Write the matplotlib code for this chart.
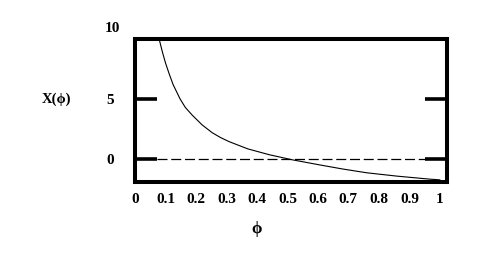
import matplotlib
matplotlib.use('Agg')
import matplotlib.pyplot as plt

plt.rcParams['font.family'] = ['Liberation Serif', 'DejaVu Serif']
plt.rcParams['font.weight'] = 'bold'

# curve
phi = [0.072, 0.079, 0.09, 0.10, 0.112, 0.125, 0.148, 0.165, 0.188, 0.22,
       0.253, 0.28, 0.309, 0.37, 0.441, 0.516, 0.605, 0.68, 0.76, 0.86,
       0.967, 1.0]
xphi = [11.0, 10.0, 8.9, 8.0, 7.1, 6.2, 5.0, 4.3, 3.65, 2.85,
        2.2, 1.8, 1.45, 0.85, 0.36, -0.06, -0.48, -0.82, -1.14, -1.42,
        -1.67, -1.73]

xticks = [0, 0.1, 0.2, 0.3, 0.4, 0.5, 0.6, 0.7, 0.8, 0.9, 1]
xlabels = ['0', '0.1', '0.2', '0.3', '0.4', '0.5', '0.6', '0.7', '0.8', '0.9', '1']
yticks = [0, 5]

fig = plt.figure(figsize=(4.91, 2.65), dpi=100)
ax = fig.add_axes([0.275, 0.314, 0.635, 0.539])

ax.plot(phi, xphi, color='black', lw=0.8)
ax.axhline(0, xmin=0.07, xmax=0.93, color='black', lw=0.9, dashes=(8, 3))

ax.set_xlim(0, 1.023)
ax.set_ylim(-1.89, 10)

for s in ax.spines.values():
    s.set_linewidth(2.9)

ax.set_xticks(xticks)
ax.set_xticklabels(xlabels, fontsize=11, fontweight='bold')
ax.tick_params(axis='x', length=0, pad=8)

ax.set_yticks(yticks)
ax.set_yticklabels(['0', '5'], fontsize=11, fontweight='bold')
ax.tick_params(axis='y', direction='in', length=16, width=2.6,
               left=True, right=True, pad=15)

ax.text(-0.074, 10.83, '10', fontsize=11, fontweight='bold',
        ha='center', va='center', clip_on=False)
fig.text(56 / 491, 1 - 99 / 265, 'X(ϕ)', fontsize=10.5, fontweight='bold',
         ha='center', va='center')
fig.text(257 / 491, 1 - 229 / 265, 'ϕ', fontsize=12, fontweight='bold',
         ha='center', va='center')

fig.savefig('out.png', dpi=100)
